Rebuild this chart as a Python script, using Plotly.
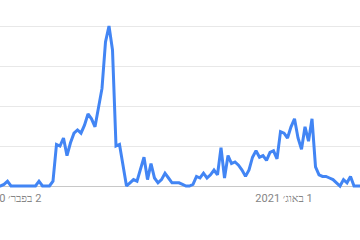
import pandas as pd
import plotly.graph_objects as go

# Weekly interest values (Google Trends style, 0-100), starting 5 Jan 2020
start_date = "2020-01-05"
values = [0, 0, 1, 3,
          0, 0, 0, 0, 0, 0, 0, 0, 3, 0, 0, 0, 3, 26, 25, 30, 19, 27, 33, 35,
          33, 38, 45, 42, 37, 48, 61, 90, 100, 85, 25, 26, 12, 0, 2, 4,
          3, 11, 18, 4, 14, 5, 2, 4, 8, 5, 2, 2, 2, 1, 0, 0,
          1, 6, 5, 8, 5, 7, 10, 7, 24, 5, 19, 14, 15, 13, 10, 6,
          10, 18, 22, 18, 19, 16, 21, 22, 17, 34, 33, 30, 37, 42, 30, 23,
          37, 28, 42, 12, 7, 6, 6, 5, 4, 2, 0, 4, 2, 6, 0, 0, 0]
dates = pd.date_range(start_date, periods=len(values), freq="7D")

tick_dates = ["2020-02-02", "2021-08-01"]
tick_labels = ["\u200f2 בפבר׳ 2020", "\u200f1 באוג׳ 2021"]
grid_values = [25, 50, 75, 100]

ref = pd.Timestamp("2020-02-02")
x0 = ref + pd.Timedelta(days=-3.14 * 7)
x1 = ref + pd.Timedelta(days=99.71 * 7)

fig = go.Figure()
fig.add_trace(go.Scatter(
    x=dates, y=values, mode="lines",
    line=dict(color="#4285f4", width=3),
    hoverinfo="skip", showlegend=False,
))

fig.update_layout(
    template="none",
    width=360, height=240,
    margin=dict(l=0, r=0, t=0, b=50),
    paper_bgcolor="white", plot_bgcolor="white",
    font=dict(family="Roboto", size=11, color="#858585"),
    xaxis=dict(
        range=[x0, x1], tickmode="array", tickvals=tick_dates, ticktext=tick_labels,
        showgrid=False, zeroline=False, showline=False, ticks="",
        automargin=False, ticklabeloverflow="allow",
        tickfont=dict(size=11, color="#858585"),
    ),
    yaxis=dict(
        range=[-2.5, 116.25], tickmode="array", tickvals=grid_values,
        showticklabels=False, showgrid=True, gridcolor="#e8e8e8", gridwidth=1,
        zeroline=True, zerolinecolor="#c8c8c8", zerolinewidth=1,
        showline=False, ticks="", automargin=False,
    ),
)

fig.write_html("out.html")
